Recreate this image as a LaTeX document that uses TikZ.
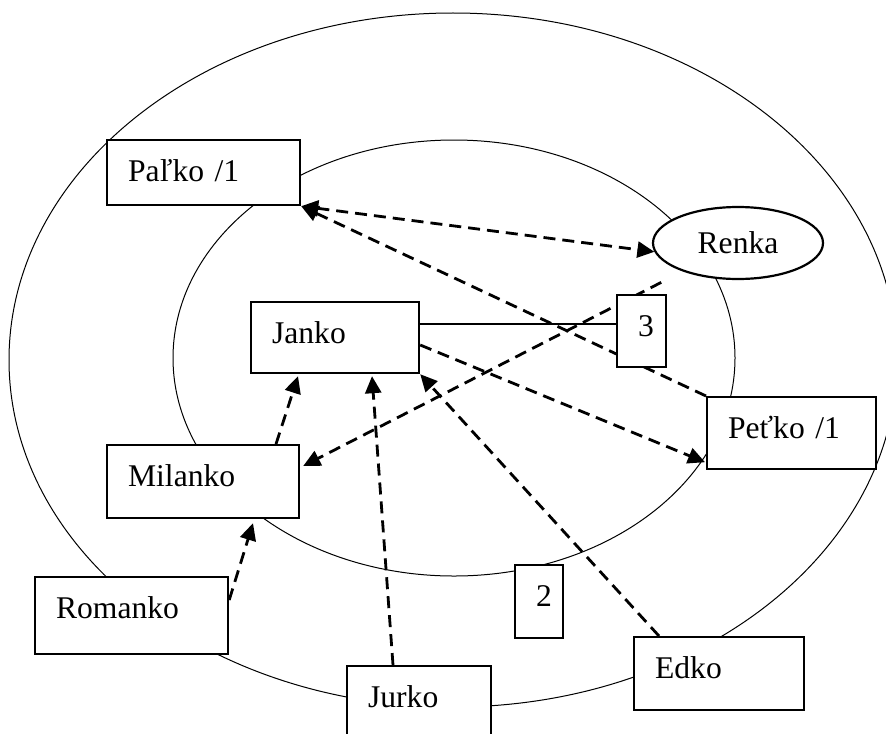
\documentclass[tikz,border=0pt]{standalone}
\usepackage{fontspec}
\setmainfont{Liberation Serif}
\usetikzlibrary{arrows.meta,calc,backgrounds,shapes.geometric}
\begin{document}
\begin{tikzpicture}[x=0.5pt,y=-0.5pt,
  font=\fontsize{15.8pt}{19pt}\selectfont,
  card/.style={draw, fill=white, line width=1.1pt, anchor=north west, inner sep=0pt,
    align=left, text height=20.5pt, execute at begin node={\hspace*{10.5pt}}},
  ring/.style={line width=0.5pt},
  tip/.style={-{Triangle[length=8.5pt,width=8pt]}},
  link/.style={dash pattern=on 6pt off 3.5pt, line width=1.4pt, tip},
]
\useasboundingbox (0,0) rectangle (886,733);

% people
\node[card, text width=96.5pt, text depth=12pt]   (palko)   at (106,139) {Paľko /1};
\node[card, text width=84pt,   text depth=15pt]   (janko)   at (250,301) {Janko};
\node[card, text width=24.5pt, text depth=15.5pt] (box3)    at (616,294) {3};
\node[card, text width=84.5pt, text depth=15.5pt] (petko)   at (706,396) {Peťko /1};
\node[card, text width=96pt,   text depth=16pt]   (milanko) at (106,444) {Milanko};
\node[card, text width=96.5pt, text depth=18pt]   (romanko) at (34,576)  {Romanko};
\node[card, text width=72pt,   text depth=24.5pt] (jurko)   at (346,665) {Jurko};
\node[card, text width=24pt,   text depth=16pt]   (box2)    at (514,564) {2};
\node[card, text width=85pt,   text depth=16pt]   (edko)    at (633,636) {Edko};
\node[ellipse, draw, fill=white, line width=1.1pt, minimum width=85pt, minimum height=36pt,
      inner sep=0pt] (renka) at (738,243) {Renka};

\begin{pgfonlayer}{background}
  % circles of relations
  \draw[ring] (453,360) ellipse [x radius=222pt, y radius=173.5pt];
  \draw[ring] (454,358) ellipse [x radius=140.5pt, y radius=109pt];

  % relations
  \draw[link, {Triangle[length=8.5pt,width=8pt]}-{Triangle[length=8.5pt,width=8pt]}]
    (palko.south east) -- (renka.186);
  \draw[link] (petko.north west) -- (palko.south east);
  \draw[link, shorten <=12pt] (renka) -- ($(milanko.north east)+(3,22)$);
  \draw[link] ($(janko.north east)+(0,44)$) -- ($(petko.south west)+(-1,-8)$);
  \coordinate (j3) at ($(janko.north east)+(0,23)$);
  \draw[line width=0.8pt] (j3) -- (j3 -| box3.west);
  \draw[link] ($(milanko.north west)+(170,0)$) -- ($(janko.south west)+(48,2)$);
  \draw[link] ($(jurko.north west)+(47,0)$) -- ($(janko.south west)+(122,2)$);
  \draw[link] ($(edko.north west)+(26,0)$) -- (janko.south east);
  \draw[link] ($(romanko.north east)+(0,24)$) -- ($(milanko.south west)+(147,4)$);
\end{pgfonlayer}
\end{tikzpicture}
\end{document}
